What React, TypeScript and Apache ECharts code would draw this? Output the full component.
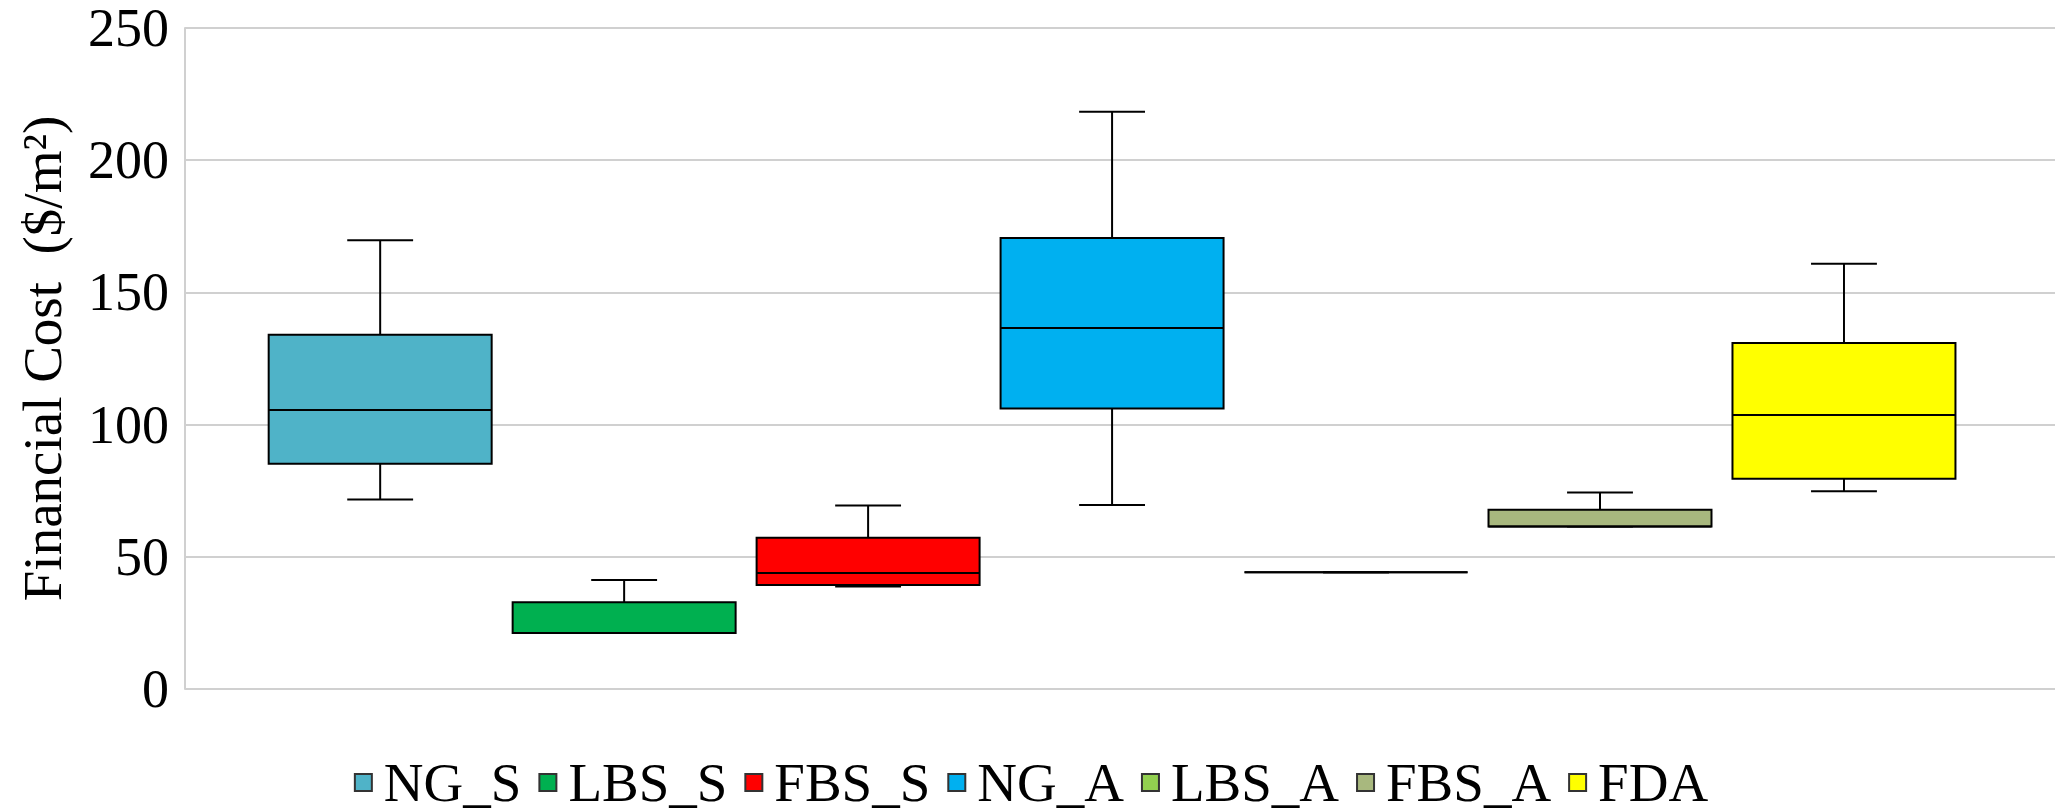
import React, { useEffect, useRef } from 'react';
import * as echarts from 'echarts';

const categories = ['NG_S', 'LBS_S', 'FBS_S', 'NG_A', 'LBS_A', 'FBS_A', 'FDA'];
const minValues = [71.7, 21.2, 38.8, 69.6, 44.2, 61.5, 74.8];
const q1Values = [85.2, 21.2, 39.3, 106.1, 44.2, 61.5, 79.5];
const medianValues = [105.5, 21.2, 43.9, 136.5, 44.2, 61.5, 103.6];
const q3Values = [134.0, 32.8, 57.2, 170.6, 44.2, 67.8, 130.9];
const maxValues = [169.7, 41.2, 69.4, 218.3, 44.2, 74.3, 160.8];
const colors = ['#4FB3C8', '#00B050', '#FF0000', '#00B0F0', '#92D050', '#A8B87E', '#FFFF00'];

const FONT = "'Liberation Serif', 'Times New Roman', serif";

export default function App() {
  const ref = useRef<HTMLDivElement>(null);

  useEffect(() => {
    const chart = echarts.init(ref.current as HTMLDivElement, null, { renderer: 'svg' });

    const renderItem = (params: any, api: any) => {
      const x = api.value(0);
      const pMin = api.coord([x, api.value(1)]);
      const pQ1 = api.coord([x, api.value(2)]);
      const pMed = api.coord([x, api.value(3)]);
      const pQ3 = api.coord([x, api.value(4)]);
      const pMax = api.coord([x, api.value(5)]);
      const unit = api.size([1, 0])[0];
      const boxW = unit * 0.914;
      const capW = unit * 0.27;
      const cx = pMin[0];
      const color = api.visual('color');
      const ls = { stroke: '#000', lineWidth: 2 };
      return {
        type: 'group',
        children: [
          { type: 'line', shape: { x1: cx, y1: pMax[1], x2: cx, y2: pQ3[1] }, style: ls },
          { type: 'line', shape: { x1: cx, y1: pQ1[1], x2: cx, y2: pMin[1] }, style: ls },
          { type: 'line', shape: { x1: cx - capW / 2, y1: pMax[1], x2: cx + capW / 2, y2: pMax[1] }, style: ls },
          { type: 'line', shape: { x1: cx - capW / 2, y1: pMin[1], x2: cx + capW / 2, y2: pMin[1] }, style: ls },
          {
            type: 'rect',
            shape: { x: cx - boxW / 2, y: pQ3[1], width: boxW, height: pQ1[1] - pQ3[1] },
            style: { fill: color, stroke: '#000', lineWidth: 2 },
          },
          { type: 'line', shape: { x1: cx - boxW / 2, y1: pMed[1], x2: cx + boxW / 2, y2: pMed[1] }, style: ls },
        ],
      };
    };

    const series = categories.map((name, i) => ({
      type: 'custom',
      name,
      renderItem,
      data: [[i, minValues[i], q1Values[i], medianValues[i], q3Values[i], maxValues[i]]],
      encode: { x: 0, y: [1, 2, 3, 4, 5] },
      itemStyle: { color: colors[i] },
    }));

    chart.setOption({
      animation: false,
      backgroundColor: '#ffffff',
      grid: { left: 185, right: 7, top: 28, bottom: 120, containLabel: false },
      xAxis: {
        type: 'value',
        min: -0.8,
        max: 6.865,
        show: false,
        splitLine: { show: false },
      },
      yAxis: {
        type: 'value',
        min: 0,
        max: 250,
        interval: 50,
        name: 'Financial Cost  ($/m²)',
        nameLocation: 'middle',
        nameRotate: 90,
        nameGap: 115,
        nameTextStyle: { fontFamily: FONT, fontSize: 55, color: '#000', lineHeight: 55 },
        axisLine: { show: true, onZero: false, lineStyle: { color: '#d0d0d0', width: 2 } },
        axisTick: { show: false },
        axisLabel: { fontFamily: FONT, fontSize: 54, color: '#000', margin: 16, lineHeight: 50 },
        splitLine: { show: true, lineStyle: { color: '#d0d0d0', width: 2 } },
      },
      legend: {
        data: categories,
        icon: 'rect',
        itemWidth: 17,
        itemHeight: 17,
        itemGap: 17,
        top: 750,
        left: 'center',
        itemStyle: { borderColor: '#333', borderWidth: 2 },
        textStyle: { fontFamily: FONT, fontSize: 55, color: '#000', lineHeight: 52, padding: [0, 0, 0, 7] },
      },
      series,
    } as any);

    return () => {
      chart.dispose();
    };
  }, []);

  return (
    <div
      ref={ref}
      style={{ position: 'absolute', left: 0, top: 0, width: 2062, height: 809, background: '#fff' }}
    />
  );
}
